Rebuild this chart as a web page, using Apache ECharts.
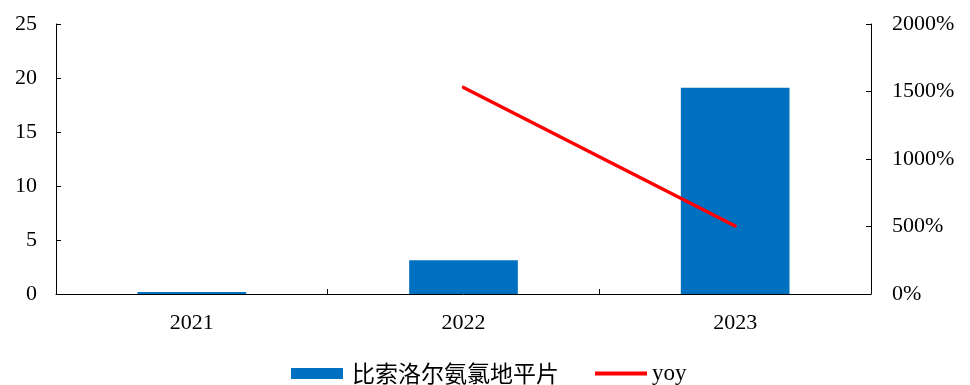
<!DOCTYPE html>
<html>
<head>
<meta charset="utf-8">
<script src="https://cdn.jsdelivr.net/npm/echarts@6/dist/echarts.min.js"></script>
<style>
  html, body { margin: 0; padding: 0; background: #fff; }
  #chart { width: 970px; height: 385px; }
</style>
</head>
<body>
<div id="chart"></div>
<script>
// Annual sales (left axis) and year-over-year growth in % (right axis)
const years = ['2021', '2022', '2023'];
const salesValues = [0.18, 3.12, 19.1];
const yoyValues = [null, 1530, 504];
const leftTicks = [0, 5, 10, 15, 20, 25];
const rightTicks = ['0%', '500%', '1000%', '1500%', '2000%'];

const serif = '"Liberation Serif", "Times New Roman", serif';
const cjk = '"Noto Sans CJK SC", sans-serif';
const axisLine = { show: true, lineStyle: { color: '#000', width: 1 } };
const tick = { show: true, inside: true, length: 5, lineStyle: { color: '#000' } };

const chart = echarts.init(document.getElementById('chart'), null, { renderer: 'canvas' });
chart.setOption({
  animation: false,
  backgroundColor: '#fff',
  grid: { left: 56, right: 99, top: 24, bottom: 91, containLabel: false },
  legend: {
    top: 362,
    left: 291,
    padding: 0,
    itemGap: 36,
    itemWidth: 52,
    itemHeight: 11,
    textStyle: {
      color: '#000',
      rich: {
        c: { fontFamily: cjk, fontSize: 23, lineHeight: 24, color: '#000', padding: [0, 0, 0, 4] },
        s: { fontFamily: serif, fontSize: 23, lineHeight: 24, color: '#000' }
      }
    },
    formatter: (name) => name === 'yoy' ? '{s|' + name + '}' : '{c|' + name + '}',
    data: [
      { name: '比索洛尔氨氯地平片', icon: 'rect' },
      { name: 'yoy', icon: 'path://M0,0L52,0L52,4L0,4Z', itemStyle: { color: '#ff0000' } }
    ]
  },
  xAxis: {
    type: 'category',
    data: years,
    axisLine: axisLine,
    axisTick: tick,
    axisLabel: { fontFamily: serif, fontSize: 22, color: '#000', margin: 18 },
    splitLine: { show: false }
  },
  yAxis: [
    {
      type: 'value',
      min: leftTicks[0],
      max: leftTicks[leftTicks.length - 1],
      interval: leftTicks[1] - leftTicks[0],
      axisLine: axisLine,
      axisTick: tick,
      axisLabel: { fontFamily: serif, fontSize: 22, color: '#000', margin: 19 },
      splitLine: { show: false }
    },
    {
      type: 'value',
      min: 0,
      max: 2000,
      interval: 500,
      position: 'right',
      axisLine: axisLine,
      axisTick: tick,
      axisLabel: {
        fontFamily: serif, fontSize: 22, color: '#000', margin: 21,
        formatter: (v) => rightTicks[Math.round(v / 500)]
      },
      splitLine: { show: false }
    }
  ],
  series: [
    {
      name: '比索洛尔氨氯地平片',
      type: 'bar',
      data: salesValues,
      barWidth: '40%',
      itemStyle: { color: '#0070c0' }
    },
    {
      name: 'yoy',
      type: 'line',
      yAxisIndex: 1,
      data: yoyValues,
      symbol: 'none',
      lineStyle: { color: '#ff0000', width: 3.5, cap: 'round' },
      itemStyle: { color: '#ff0000' }
    }
  ]
});
</script>
</body>
</html>
